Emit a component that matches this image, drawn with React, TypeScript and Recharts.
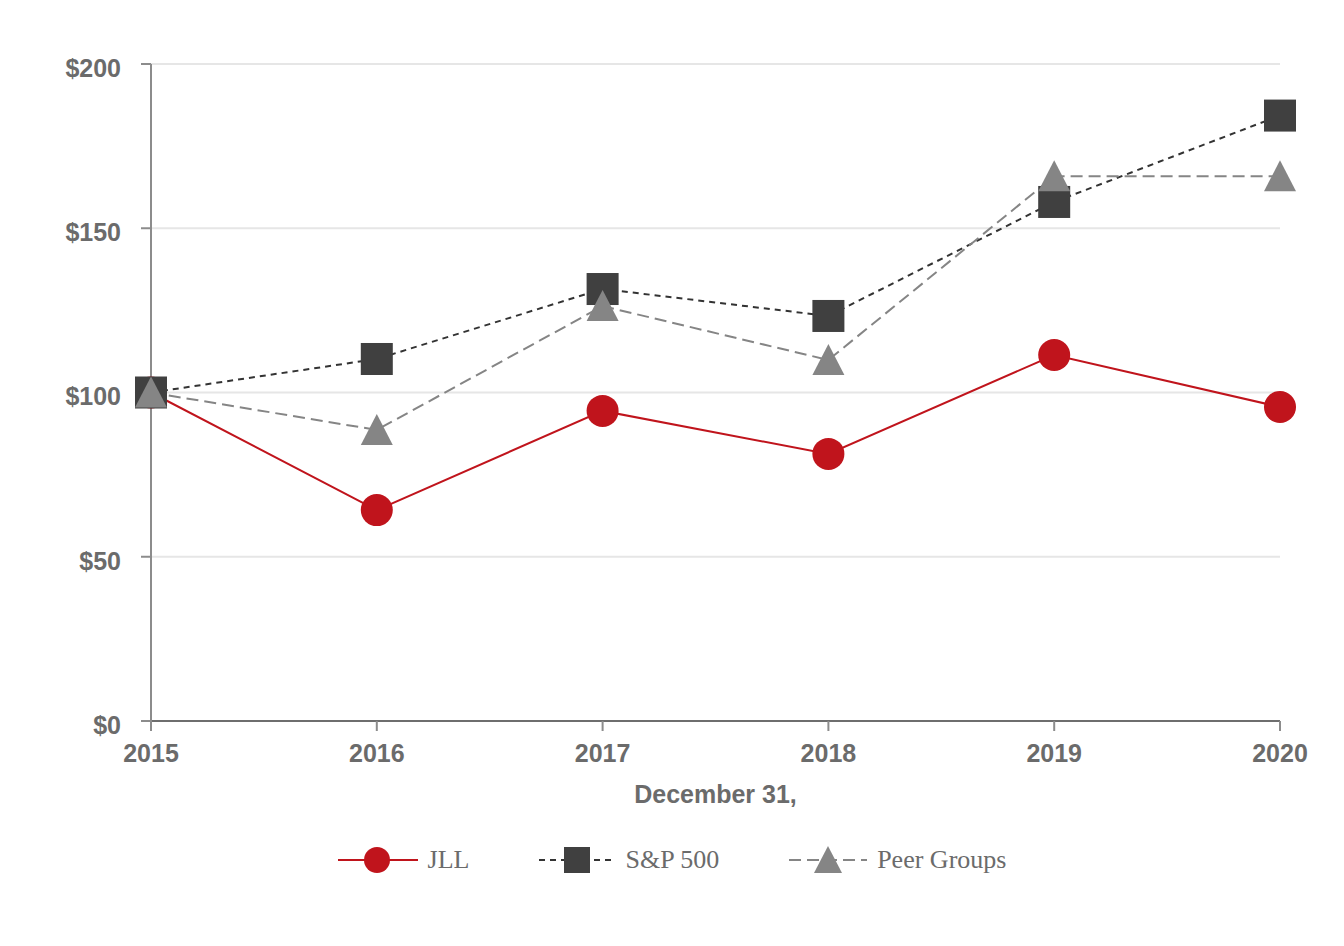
import React from 'react';
import { LineChart, Line, XAxis, YAxis, CartesianGrid } from 'recharts';

const years = ['2015', '2016', '2017', '2018', '2019', '2020'];
const jllValues = [100, 64.2, 94.4, 81.3, 111.4, 95.6];
const spValues = [100, 110.2, 131.5, 123.3, 158.0, 184.3];
const peerValues = [100, 88.6, 126.3, 109.9, 165.8, 165.8];
const yTicks = [0, 50, 100, 150, 200];

const RED = '#c0141c';
const DARK = '#404040';
const GREY = '#858585';
const TEXT = '#6b6b6b';

const data = years.map((y, i) => ({ year: y, jll: jllValues[i], sp: spValues[i], peer: peerValues[i] }));

const tickStyle = { fill: TEXT, fontSize: 25, fontWeight: 'bold', fontFamily: '"Liberation Sans", Arial, sans-serif' };

const CircleDot = (p: any) => <circle key={`c${p.index}`} cx={p.cx} cy={p.cy} r={16} fill={RED} />;
const SquareDot = (p: any) => <rect key={`s${p.index}`} x={p.cx - 16} y={p.cy - 16} width={32} height={32} fill={DARK} />;
const TriDot = (p: any) => (
  <polygon key={`t${p.index}`} points={`${p.cx},${p.cy - 16} ${p.cx + 16},${p.cy + 15} ${p.cx - 16},${p.cy + 15}`} fill={GREY} />
);

const LegendItem = ({ kind, label }: { kind: string; label: string }) => {
  let icon: React.ReactNode = null;
  if (kind === 'jll') {
    icon = (
      <svg width={80} height={36}>
        <line x1={0} y1={18} x2={80} y2={18} stroke={RED} strokeWidth={2} />
        <circle cx={39} cy={18} r={13} fill={RED} />
      </svg>
    );
  } else if (kind === 'sp') {
    icon = (
      <svg width={76} height={36}>
        <line x1={0} y1={18} x2={76} y2={18} stroke="#333" strokeWidth={2} strokeDasharray="6 5" />
        <rect x={25} y={5} width={26} height={26} fill={DARK} />
      </svg>
    );
  } else {
    icon = (
      <svg width={78} height={36}>
        <line x1={0} y1={18} x2={78} y2={18} stroke={GREY} strokeWidth={2} strokeDasharray="12 6" />
        <polygon points="39,4 53,31 25,31" fill={GREY} />
      </svg>
    );
  }
  return (
    <div style={{ display: 'flex', alignItems: 'center' }}>
      {icon}
      <span style={{ marginLeft: 10, fontFamily: '"Liberation Serif", "Times New Roman", serif', fontSize: 26, color: TEXT }}>{label}</span>
    </div>
  );
};

export default function App() {
  return (
    <div style={{ position: 'relative', width: 1336, height: 938 }}>
      <LineChart width={1336} height={938} data={data} margin={{ top: 56, right: 64, left: 63, bottom: 130 }}>
        <CartesianGrid vertical={false} stroke="#e6e6e6" strokeWidth={2} />
        <XAxis
          dataKey="year"
          height={95}
          axisLine={{ stroke: '#6e6e6e', strokeWidth: 2 }}
          tickLine={{ stroke: '#8c8c8c', strokeWidth: 2 }}
          tickSize={10}
          tickMargin={13}
          tick={tickStyle}
          interval={0}
          label={{ value: 'December 31,', position: 'insideBottom', offset: 13, ...tickStyle }}
        />
        <YAxis
          width={80}
          domain={[0, 200]}
          ticks={yTicks}
          tickFormatter={(v: number) => `$${v}`}
          axisLine={{ stroke: '#8c8c8c', strokeWidth: 2 }}
          tickLine={{ stroke: '#8c8c8c', strokeWidth: 2 }}
          tickSize={10}
          tickMargin={20}
          tick={{ ...tickStyle, dy: 4 }}
        />
        <Line dataKey="jll" stroke={RED} strokeWidth={2} dot={CircleDot} activeDot={false} isAnimationActive={false} />
        <Line dataKey="sp" stroke="#333" strokeWidth={2} strokeDasharray="6 5" dot={SquareDot} activeDot={false} isAnimationActive={false} />
        <Line dataKey="peer" stroke={GREY} strokeWidth={2} strokeDasharray="12 6" dot={TriDot} activeDot={false} isAnimationActive={false} />
      </LineChart>
      <div style={{ position: 'absolute', top: 834, left: -8, width: 1344, display: 'flex', justifyContent: 'center', gap: 70 }}>
        <LegendItem kind="jll" label="JLL" />
        <LegendItem kind="sp" label="S&P 500" />
        <LegendItem kind="peer" label="Peer Groups" />
      </div>
    </div>
  );
}
